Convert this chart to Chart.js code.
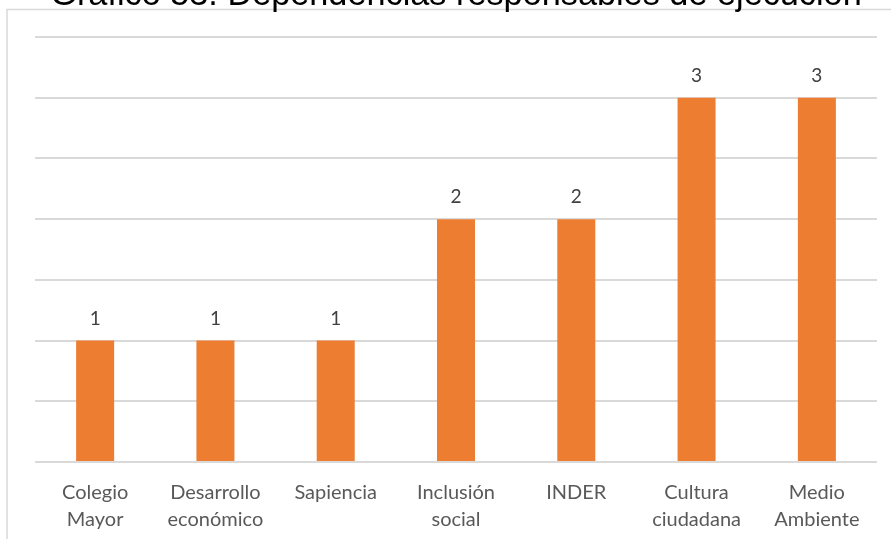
<!DOCTYPE html>
<html>
<head>
<meta charset="utf-8">
<script src="https://cdn.jsdelivr.net/npm/chart.js@4.4.0/dist/chart.umd.min.js"></script>
<style>
  html, body { margin: 0; padding: 0; background: #ffffff; }
  #grafico { display: block; }
</style>
</head>
<body>
<canvas id="grafico" width="891" height="539"></canvas>
<script>
var titulo = "Gráfico 53. Dependencias responsables de ejecución";
var dependencias = [
  ["Colegio", "Mayor"],
  ["Desarrollo", "económico"],
  ["Sapiencia"],
  ["Inclusión", "social"],
  ["INDER"],
  ["Cultura", "ciudadana"],
  ["Medio", "Ambiente"]
];
var cantidades = [1, 1, 1, 2, 2, 3, 3];

// marco del grafico y titulo cortado arriba
var marcoTitulo = {
  id: "marcoTitulo",
  beforeDraw: function (chart) {
    var ctx = chart.ctx;
    ctx.save();
    ctx.fillStyle = "#ffffff";
    ctx.fillRect(0, 0, chart.width, chart.height);
    ctx.strokeStyle = "#d9d9d9";
    ctx.lineWidth = 1.5;
    ctx.strokeRect(7, 9.5, chart.width + 20, chart.height + 20);
    ctx.fillStyle = "#000000";
    ctx.font = "100px 'Liberation Sans', Arial, sans-serif";
    var w = ctx.measureText(titulo).width;
    var size = 100 * 812 / w;
    ctx.font = size + "px 'Liberation Sans', Arial, sans-serif";
    ctx.textAlign = "center";
    ctx.textBaseline = "alphabetic";
    ctx.fillText(titulo, 456, 5);
    ctx.restore();
  }
};

// etiquetas de valor encima de cada barra
var etiquetas = {
  id: "etiquetas",
  afterDatasetsDraw: function (chart) {
    var ctx = chart.ctx;
    var meta = chart.getDatasetMeta(0);
    ctx.save();
    ctx.fillStyle = "#404040";
    ctx.font = "19px Lato, 'Open Sans', sans-serif";
    ctx.textAlign = "center";
    ctx.textBaseline = "middle";
    meta.data.forEach(function (bar, i) {
      ctx.fillText(String(cantidades[i]), bar.x, bar.y - 22);
    });
    ctx.restore();
  }
};

var ctx = document.getElementById("grafico").getContext("2d");
var myChart = new Chart(ctx, {
  type: "bar",
  data: {
    labels: dependencias,
    datasets: [
      {
        label: "Dependencias",
        data: cantidades,
        backgroundColor: "#ed7d31",
        barPercentage: 0.316,
        categoryPercentage: 1
      }
    ]
  },
  options: {
    responsive: false,
    animation: false,
    layout: { padding: { left: 0, right: 14, top: 37, bottom: 0 } },
    plugins: {
      legend: { display: false },
      tooltip: { enabled: false }
    },
    scales: {
      x: {
        grid: { display: false },
        border: { display: false },
        ticks: {
          color: "#595959",
          font: { family: "Lato, 'Open Sans', sans-serif", size: 20, lineHeight: 1.35 },
          maxRotation: 0,
          autoSkip: false,
          padding: 9
        },
        afterFit: function (scale) { scale.height = 77; }
      },
      y: {
        min: 0,
        max: 3.5,
        ticks: { stepSize: 0.5, display: false },
        grid: { color: "#d9d9d9", lineWidth: 2, drawTicks: false },
        border: { display: false },
        afterFit: function (scale) { scale.width = 35; }
      }
    }
  },
  plugins: [marcoTitulo, etiquetas]
});
</script>
</body>
</html>
